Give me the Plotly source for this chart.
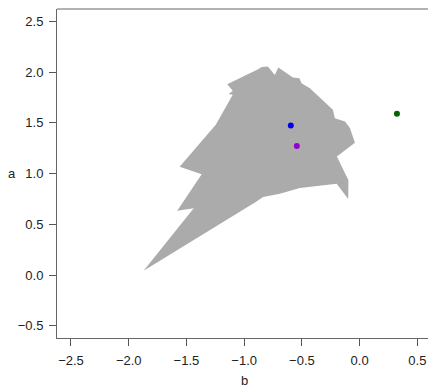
import plotly.graph_objects as go

# polygon outline (b, a)
poly_b = [-1.871, -1.437, -1.580, -1.368, -1.559, -1.246, -1.099, -1.134, -1.099, -1.147,
          -0.888, -0.847, -0.795, -0.735, -0.704, -0.633, -0.578, -0.522, -0.503, -0.431,
          -0.318, -0.232, -0.215, -0.127, -0.084, -0.041, -0.197, -0.097, -0.099, -0.199,
          -0.518, -0.605, -0.648, -0.691, -0.836, -0.893]
poly_a = [0.044, 0.659, 0.635, 0.994, 1.068, 1.481, 1.777, 1.786, 1.816, 1.882,
          2.023, 2.052, 2.057, 1.973, 2.047, 1.990, 1.949, 1.941, 1.892, 1.843,
          1.727, 1.629, 1.547, 1.514, 1.449, 1.304, 1.169, 0.935, 0.750, 0.901,
          0.858, 0.827, 0.812, 0.802, 0.770, 0.726]

# points
pt_b = [-0.596, -0.544, 0.323]
pt_a = [1.474, 1.272, 1.590]
pt_colors = ["#0000EE", "#9400D3", "#006400"]

x_ticks = [-2.5, -2.0, -1.5, -1.0, -0.5, 0.0, 0.5]
y_ticks = [-0.5, 0.0, 0.5, 1.0, 1.5, 2.0, 2.5]

FONT = dict(family="Liberation Sans, Arial", size=13, color="#222222")

fig = go.Figure()
fig.add_trace(go.Scatter(x=poly_b + [poly_b[0]], y=poly_a + [poly_a[0]], mode="lines",
                         fill="toself", fillcolor="#ABABAB", line=dict(width=0, color="#ABABAB"),
                         hoverinfo="skip", showlegend=False))
fig.add_trace(go.Scatter(x=pt_b, y=pt_a, mode="markers",
                         marker=dict(size=6, color=pt_colors), showlegend=False))

axis_common = dict(showgrid=False, zeroline=False, showline=True, linecolor="#666666",
                   linewidth=1, ticks="outside", ticklen=7, tickcolor="#555555", tickwidth=1,
                   tickfont=FONT)

# pixel geometry of the plot area
ph = 388 - 9 - 50
pw = 428 - 57

fig.update_layout(
    width=428, height=388,
    margin=dict(l=57, r=0, t=9, b=50),
    paper_bgcolor="white", plot_bgcolor="white",
    xaxis=dict(range=[-2.621, 0.592], tickvals=x_ticks,
               ticktext=[f"{v:.1f}".replace("-", "\u2212") for v in x_ticks],
               ticklabelstandoff=3, **axis_common),
    yaxis=dict(range=[-0.620, 2.623], tickvals=y_ticks,
               ticktext=[f"{v:.1f}".replace("-", "\u2212") for v in y_ticks],
               ticklabelstandoff=3, **axis_common),
    annotations=[
        dict(text="a", x=(12 - 57) / pw, y=(338.5 - 174) / ph, xref="paper", yref="paper",
             xanchor="center", yanchor="middle", showarrow=False, font=FONT),
        dict(text="b", x=(244.3 - 57) / pw, y=(338.5 - 381) / ph, xref="paper", yref="paper",
             xanchor="center", yanchor="middle", showarrow=False, font=FONT),
    ],
    shapes=[dict(type="line", xref="paper", yref="paper", x0=0, x1=1, y0=1, y1=1,
                 line=dict(color="#666666", width=1))],
)

fig.write_html("out.html")
